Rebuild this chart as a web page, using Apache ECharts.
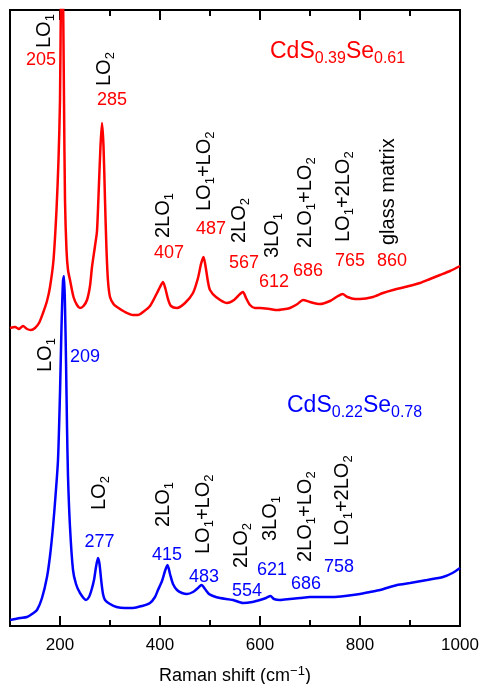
<!DOCTYPE html>
<html><head><meta charset="utf-8">
<script src="https://cdn.jsdelivr.net/npm/echarts@6/dist/echarts.min.js"></script>
<style>html,body{margin:0;padding:0;background:#fff}#c{width:484px;height:684px}</style>
</head><body><div id="c"></div>
<script>
// Raman shift (cm-1) and intensity (arbitrary units)
const redShift = [100,110,118,126,134,142,150,158,166,174,180,187,193,197,200,202,204,206,208,210,213,216,220,227,234,240,247,254,260,264,270,274,278,281,284,287,290,293,296,300,307,314,330,346,356,366,380,394,400,406,411,416,422,434,450,466,476,482,487,491,496,500,512,534,548,560,566,572,580,590,600,620,634,650,660,675,686,700,720,740,756,765,775,790,800,826,846,866,890,920,940,960,980,1000];
const redIntensity = [298,299,297,300,297,296,298,303,313,325,339,366,416,466,526,640,740,640,526,426,376,356,346,329,321,318,320,326,340,359,380,395,443,480,503,480,426,376,345,329,322,319,314,311,311,314,320,333,339,344,337,327,320,318,323,333,348,362,369,360,344,336,329,323,326,332,334,328,321,318,318,317,316,317,318,322,326,324,322,325,330,332,329,327,327,329,333,336,339,343,347,351,355,360];
const blueShift = [100,110,120,134,144,154,164,174,180,186,191,196,200,203,206,208,210,212,214,216,220,226,232,240,252,258,263,268,272,276,279,283,286,290,300,313,330,346,364,380,390,396,404,410,415,420,426,434,444,454,466,476,483,490,498,506,520,546,566,585,600,612,621,628,640,660,680,700,746,770,800,820,840,874,900,934,966,985,1000];
const blueIntensity = [6,7,8,9,12,16,28,49,70,99,130,166,233,299,345,350,320,266,200,150,99,56,42,33,26,29,36,46,59,68,62,43,32,26,22,19,18,18,20,23,29,36,45,55,61,52,42,36,33,32,34,38,41,37,32,30,28,26,23,24,26,28,30,27,26,27,28,29,29,30,32,34,36,41,43,46,49,53,58];

const majorTicks = [200,400,600,800,1000];
const minorTicks = [300,500,700,900];
const tickLabels = ['200','400','600','800','1000'];

const redSample = 'CdS{s|0.39}Se{s|0.61}';
const blueSample = 'CdS{s|0.22}Se{s|0.78}';
const redModes = ['LO1','LO2','2LO1','LO1+LO2','2LO2','3LO1','2LO1+LO2','LO1+2LO2','glass matrix'];
const redPeaks = ['205','285','407','487','567','612','686','765','860'];
const blueModes = ['LO1','LO2','2LO1','LO1+LO2','2LO2','3LO1','2LO1+LO2','LO1+2LO2'];
const bluePeaks = ['209','277','415','483','554','621','686','758'];

// annotation anchors in data coordinates [shift, intensity]
const redModeAnchors = [[169,578],[288,540],[406,388],[488,415],[558,383],[624,368],[690,378],[766,384],[856,381]];
const redPeakAnchors = [[162,566],[304,526],[418,373],[502,397],[568,363],[628,344],[696,355],[780,365],[864,365]];
const blueModeAnchors = [[170,254],[278,116],[406,99],[486,72],[562,58],[620,85],[690,64],[764,80]];
const bluePeakAnchors = [[250,269],[279,84],[414,71],[488,49],[574,35],[624,56],[692,42],[758,59]];
const redSampleAnchor = [620,574];
const blueSampleAnchor = [654,220];

const FONT = '"Liberation Sans", Arial, Helvetica, sans-serif';
const RED = '#ff0000', BLUE = '#0000ff';

const chart = echarts.init(document.getElementById('c'));
const tickAxis = (pos, values, len, labels) => ({
  type: 'value', min: 100, max: 1000, position: pos,
  axisLine: {show: false},
  splitLine: {show: false},
  axisTick: {show: true, inside: true, length: len, customValues: values, lineStyle: {color: '#000', width: 2}},
  axisLabel: labels ? {
    show: true, customValues: values, margin: 11, color: '#000', fontSize: 17, fontFamily: FONT,
    formatter: v => tickLabels[majorTicks.indexOf(v)] || ''
  } : {show: false}
});
const xMain = tickAxis('bottom', majorTicks, 10, true);
xMain.name = 'Raman shift (cm{sup|\u22121})';
xMain.nameLocation = 'middle';
xMain.nameGap = 38;
xMain.nameTextStyle = {fontSize: 18, color: '#000', fontFamily: FONT, lineHeight: 24,
  rich: {sup: {fontSize: 13, color: '#000', fontFamily: FONT, lineHeight: 13, padding: [0,0,10,0]}}};

chart.setOption({
  animation: false,
  backgroundColor: '#fff',
  grid: {left: 10, right: 24, top: 10, bottom: 58, outerBoundsMode: 'none', containLabel: false,
    show: true, borderColor: '#000', borderWidth: 2, backgroundColor: 'transparent'},
  xAxis: [xMain, tickAxis('bottom', minorTicks, 6, false), tickAxis('top', majorTicks, 10, false), tickAxis('top', minorTicks, 6, false)],
  yAxis: {type: 'value', min: 0, max: 616, show: false},
  series: [
    {name: 'CdS0.39Se0.61', type: 'line', xAxisIndex: 0, symbol: 'none', smooth: 0.25, clip: true,
     lineStyle: {color: RED, width: 2.5}, data: redShift.map((x, i) => [x, redIntensity[i]])},
    {name: 'CdS0.22Se0.78', type: 'line', xAxisIndex: 0, symbol: 'none', smooth: 0.25, clip: true,
     lineStyle: {color: BLUE, width: 2.5}, data: blueShift.map((x, i) => [x, blueIntensity[i]])}
  ]
});

const toPx = p => chart.convertToPixel({xAxisIndex: 0, yAxisIndex: 0}, p);
const richMode = s => s.replace(/O(\d)/g, 'O{s|$1}');
const g = [];
function modeLabels(modes, anchors) {
  modes.forEach((m, i) => {
    const p = toPx(anchors[i]);
    g.push({type: 'text', x: p[0], y: p[1], rotation: Math.PI / 2, z: 10,
      style: {text: richMode(m), fontSize: 20, fontFamily: FONT, fill: '#000', align: 'left', verticalAlign: 'middle',
        rich: {s: {fontSize: 13, fontFamily: FONT, fill: '#000', lineHeight: 13, padding: [12, 0, 0, 0]}}}});
  });
}
function peakLabels(peaks, anchors, color) {
  peaks.forEach((t, i) => {
    const p = toPx(anchors[i]);
    g.push({type: 'text', x: p[0], y: p[1], z: 10,
      style: {text: t, fontSize: 18, fontFamily: FONT, fill: color, align: 'center', verticalAlign: 'middle'}});
  });
}
function sampleLabel(text, anchor, color) {
  const p = toPx(anchor);
  g.push({type: 'text', x: p[0], y: p[1], z: 10,
    style: {text: text, fontSize: 23, fontFamily: FONT, fill: color, align: 'left', verticalAlign: 'middle',
      rich: {s: {fontSize: 16, fontFamily: FONT, fill: color, lineHeight: 16, padding: [14, 0, 0, 0]}}}});
}
modeLabels(redModes, redModeAnchors);
peakLabels(redPeaks, redPeakAnchors, RED);
modeLabels(blueModes, blueModeAnchors);
peakLabels(bluePeaks, bluePeakAnchors, BLUE);
sampleLabel(redSample, redSampleAnchor, RED);
sampleLabel(blueSample, blueSampleAnchor, BLUE);
chart.setOption({graphic: g});
</script></body></html>
